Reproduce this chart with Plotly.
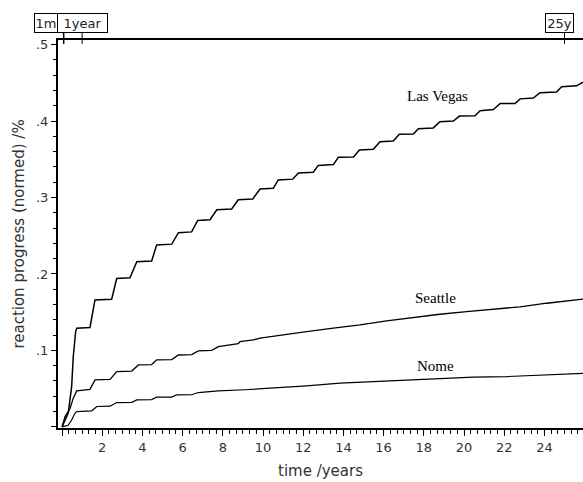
import plotly.graph_objects as go

# ---- data ----
lv_x = [0, 0.31, 0.48, 0.56, 0.68, 0.73, 1.39, 1.64, 2.47, 2.72, 3.38, 3.72, 4.46, 4.71, 5.46,
        5.79, 6.45, 6.75, 7.36, 7.70, 8.44, 8.77, 9.49, 9.85, 10.51, 10.76, 11.48, 11.76, 12.5,
        12.75, 13.5, 13.75, 14.5, 14.8, 15.49, 15.82, 16.48, 16.78, 17.48, 17.73, 18.47, 18.8,
        19.47, 19.77, 20.55, 20.8, 21.46, 21.8, 22.54, 22.79, 23.45, 23.78, 24.6, 24.86, 25.6, 25.92]
lv_y = [0, 0.018, 0.053, 0.092, 0.125, 0.129, 0.130, 0.166, 0.167, 0.194, 0.195, 0.216, 0.217,
        0.238, 0.239, 0.254, 0.255, 0.270, 0.271, 0.284, 0.285, 0.297, 0.298, 0.311, 0.312,
        0.323, 0.324, 0.332, 0.333, 0.342, 0.343, 0.3525, 0.353, 0.362, 0.363, 0.373, 0.374,
        0.3826, 0.383, 0.390, 0.391, 0.399, 0.400, 0.4065, 0.407, 0.4135, 0.415, 0.423, 0.423,
        0.429, 0.430, 0.437, 0.438, 0.445, 0.446, 0.451]

se_x = [0, 0.15, 0.4, 0.56, 0.73, 1.39, 1.64, 2.39, 2.72, 3.47, 3.8, 4.46, 4.71, 5.46, 5.79,
        6.45, 6.78, 7.45, 7.78, 8.77, 8.86, 9.52, 9.85, 10.85, 12.17, 13.5, 14.83, 16.15, 17.48,
        18.8, 20.13, 21.46, 22.79, 24.11, 25.44, 25.92]
se_y = [0, 0.0135, 0.024, 0.0375, 0.047, 0.049, 0.0614, 0.062, 0.0723, 0.073, 0.081, 0.0815,
        0.0876, 0.088, 0.094, 0.0945, 0.0993, 0.100, 0.105, 0.109, 0.1115, 0.1137, 0.116, 0.120,
        0.1246, 0.129, 0.1333, 0.1386, 0.1434, 0.1473, 0.1507, 0.1538, 0.157, 0.1617, 0.166, 0.167]

no_x = [0, 0.31, 0.48, 0.65, 0.73, 1.48, 1.73, 2.39, 2.72, 3.47, 3.72, 4.46, 4.71, 5.46, 5.7,
        6.45, 6.78, 7.78, 9.1, 10.51, 12.17, 13.83, 15.49, 17.15, 18.8, 20.46, 22.12, 23.78, 25.92]
no_y = [0, 0.002, 0.009, 0.018, 0.020, 0.021, 0.0266, 0.027, 0.0318, 0.032, 0.0353, 0.0356,
        0.0388, 0.039, 0.0418, 0.042, 0.0449, 0.047, 0.0485, 0.0505, 0.0536, 0.0571, 0.0592,
        0.0614, 0.0636, 0.065, 0.0658, 0.068, 0.070]

city_names = ["Las Vegas", "Seattle", "Nome"]
label_x = [18.66, 18.56, 18.58]
label_y = [0.4327, 0.1686, 0.0797]

x_tickvals = [0, 2, 4, 6, 8, 10, 12, 14, 16, 18, 20, 22, 24]
x_ticktext = ["", "2", "4", "6", "8", "10", "12", "14", "16", "18", "20", "22", "24"]
y_tickvals = [0, 0.1, 0.2, 0.3, 0.4, 0.5]
y_ticktext = ["", ".1", ".2", ".3", ".4", ".5"]

marker_pos = [1 / 12, 1, 25]
marker_text = ["1m", "1year", "25y"]

SANS = "DejaVu Sans"

fig = go.Figure()
for xs, ys, w in [(lv_x, lv_y, 1.5), (se_x, se_y, 1.3), (no_x, no_y, 1.2)]:
    fig.add_trace(go.Scatter(x=xs, y=ys, mode="lines",
                             line=dict(color="black", width=w), showlegend=False))

for name, lx, ly in zip(city_names, label_x, label_y):
    fig.add_annotation(x=lx, y=ly, text=name, showarrow=False,
                       font=dict(family="Liberation Serif", size=15, color="black"))

# top markers
shifts = [-18, 0, -5]
widths = [20, 47, 25]
for pos, txt, sh, wd in zip(marker_pos, marker_text, shifts, widths):
    fig.add_shape(type="line", xref="x", yref="paper", x0=pos, x1=pos, y0=0.99, y1=1.018,
                  line=dict(color="black", width=1.5 if txt == "1m" else 1))
    fig.add_annotation(x=pos, y=1, xref="x", yref="paper", yanchor="bottom", yshift=7,
                       xshift=sh, text=txt, showarrow=False, bordercolor="black",
                       borderwidth=1, borderpad=1, bgcolor="white", width=wd, height=16,
                       font=dict(family=SANS, size=13, color="#222222"))

fig.update_layout(
    width=583, height=482,
    margin=dict(l=58, r=0, t=40, b=54),
    paper_bgcolor="white", plot_bgcolor="white",
    font=dict(family=SANS, size=13, color="#333333"),
    xaxis=dict(range=[-0.2, 25.92], showgrid=False, zeroline=False,
               showline=True, linecolor="black", linewidth=2, mirror=True,
               ticks="outside", ticklen=6, tickwidth=1, tickcolor="black",
               tickvals=x_tickvals, ticktext=x_ticktext,
               tickfont=dict(family=SANS, size=13),
               minor=dict(dtick=1 / 3, tick0=0, ticks="outside", ticklen=4, tickcolor="black"),
               title=dict(text="time /years", font=dict(family=SANS, size=15), standoff=12)),
    yaxis=dict(range=[-0.0015, 0.506], showgrid=False, zeroline=False,
               showline=True, linecolor="black", linewidth=2,
               ticks="outside", ticklen=5, tickwidth=1, tickcolor="black",
               tickvals=y_tickvals, ticktext=y_ticktext,
               tickfont=dict(family=SANS, size=13),
               minor=dict(dtick=0.02, tick0=0, ticks="outside", ticklen=3, tickcolor="black"),
               title=dict(text="reaction progress (normed) /%", font=dict(family=SANS, size=15),
                          standoff=8)),
)

fig.write_html("out.html")
